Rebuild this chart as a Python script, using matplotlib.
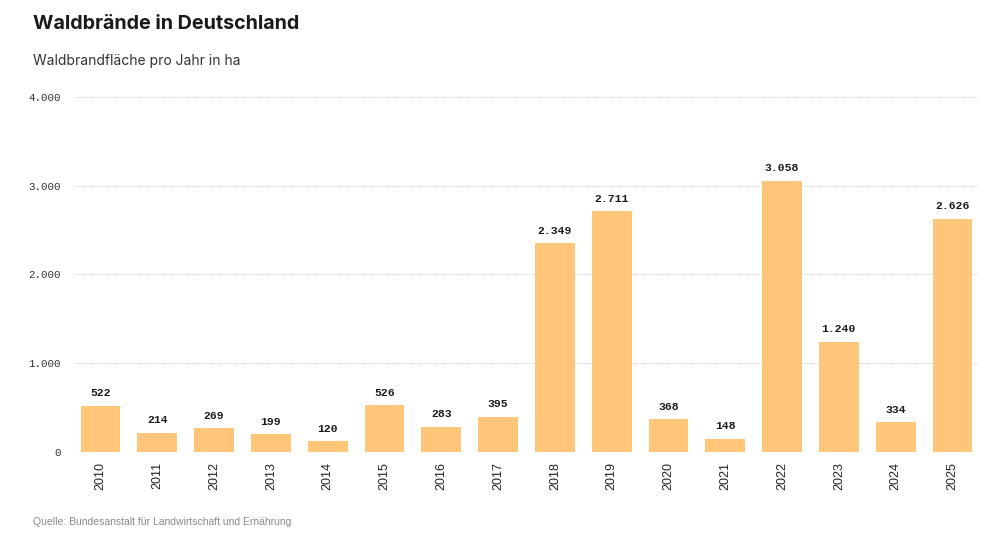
import matplotlib.pyplot as plt
import numpy as np

years = [str(y) for y in range(2010, 2026)]
flaeche = [522, 214, 269, 199, 120, 526, 283, 395, 2349, 2711, 368, 148, 3058, 1240, 334, 2626]
yticks = [0, 1000, 2000, 3000, 4000]
yticklabels = ['0', '1.000', '2.000', '3.000', '4.000']

fig = plt.figure(figsize=(10, 5.43), dpi=100)
ax = fig.add_axes([0.075, 0.1676, 0.903, 0.654])

x = np.arange(len(years))
ax.bar(x, flaeche, width=0.7, color='#ffc67a', zorder=2)
for xi, v in zip(x, flaeche):
    ax.text(xi, v + 85, f"{v:,}".replace(',', '.'), ha='center', va='bottom',
            fontsize=8.2, fontweight='bold', family='Liberation Mono', color='#1a1a1a')

ax.set_xlim(-0.45, 15.45)
ax.set_ylim(0, 4000)
ax.set_yticks(yticks)
ax.set_yticklabels(yticklabels, family='Liberation Mono', fontsize=7.8, color='#333333')
ax.set_xticks(x)
ax.set_xticklabels(years, rotation=90, family='Liberation Sans', fontsize=9, color='#222222')
ax.tick_params(axis='both', length=0)
ax.tick_params(axis='y', pad=10)
ax.tick_params(axis='x', pad=7)
ax.grid(axis='y', color='#b8b8b8', linestyle=(0, (1, 1.5)), linewidth=0.6, zorder=0)
for s in ax.spines.values():
    s.set_visible(False)

fig.text(0.033, 0.955, 'Waldbrände in Deutschland', fontsize=14.2, fontweight='bold',
         family='Inter', color='#1a1a1a', va='center')
fig.text(0.033, 0.888, 'Waldbrandfläche pro Jahr in ha', fontsize=10,
         family='Inter', color='#333333', va='center')
fig.text(0.033, 0.038, 'Quelle: Bundesanstalt für Landwirtschaft und Ernährung', fontsize=7.5,
         family='Liberation Sans', color='#888888', va='center')

fig.savefig('out.png', dpi=100)
